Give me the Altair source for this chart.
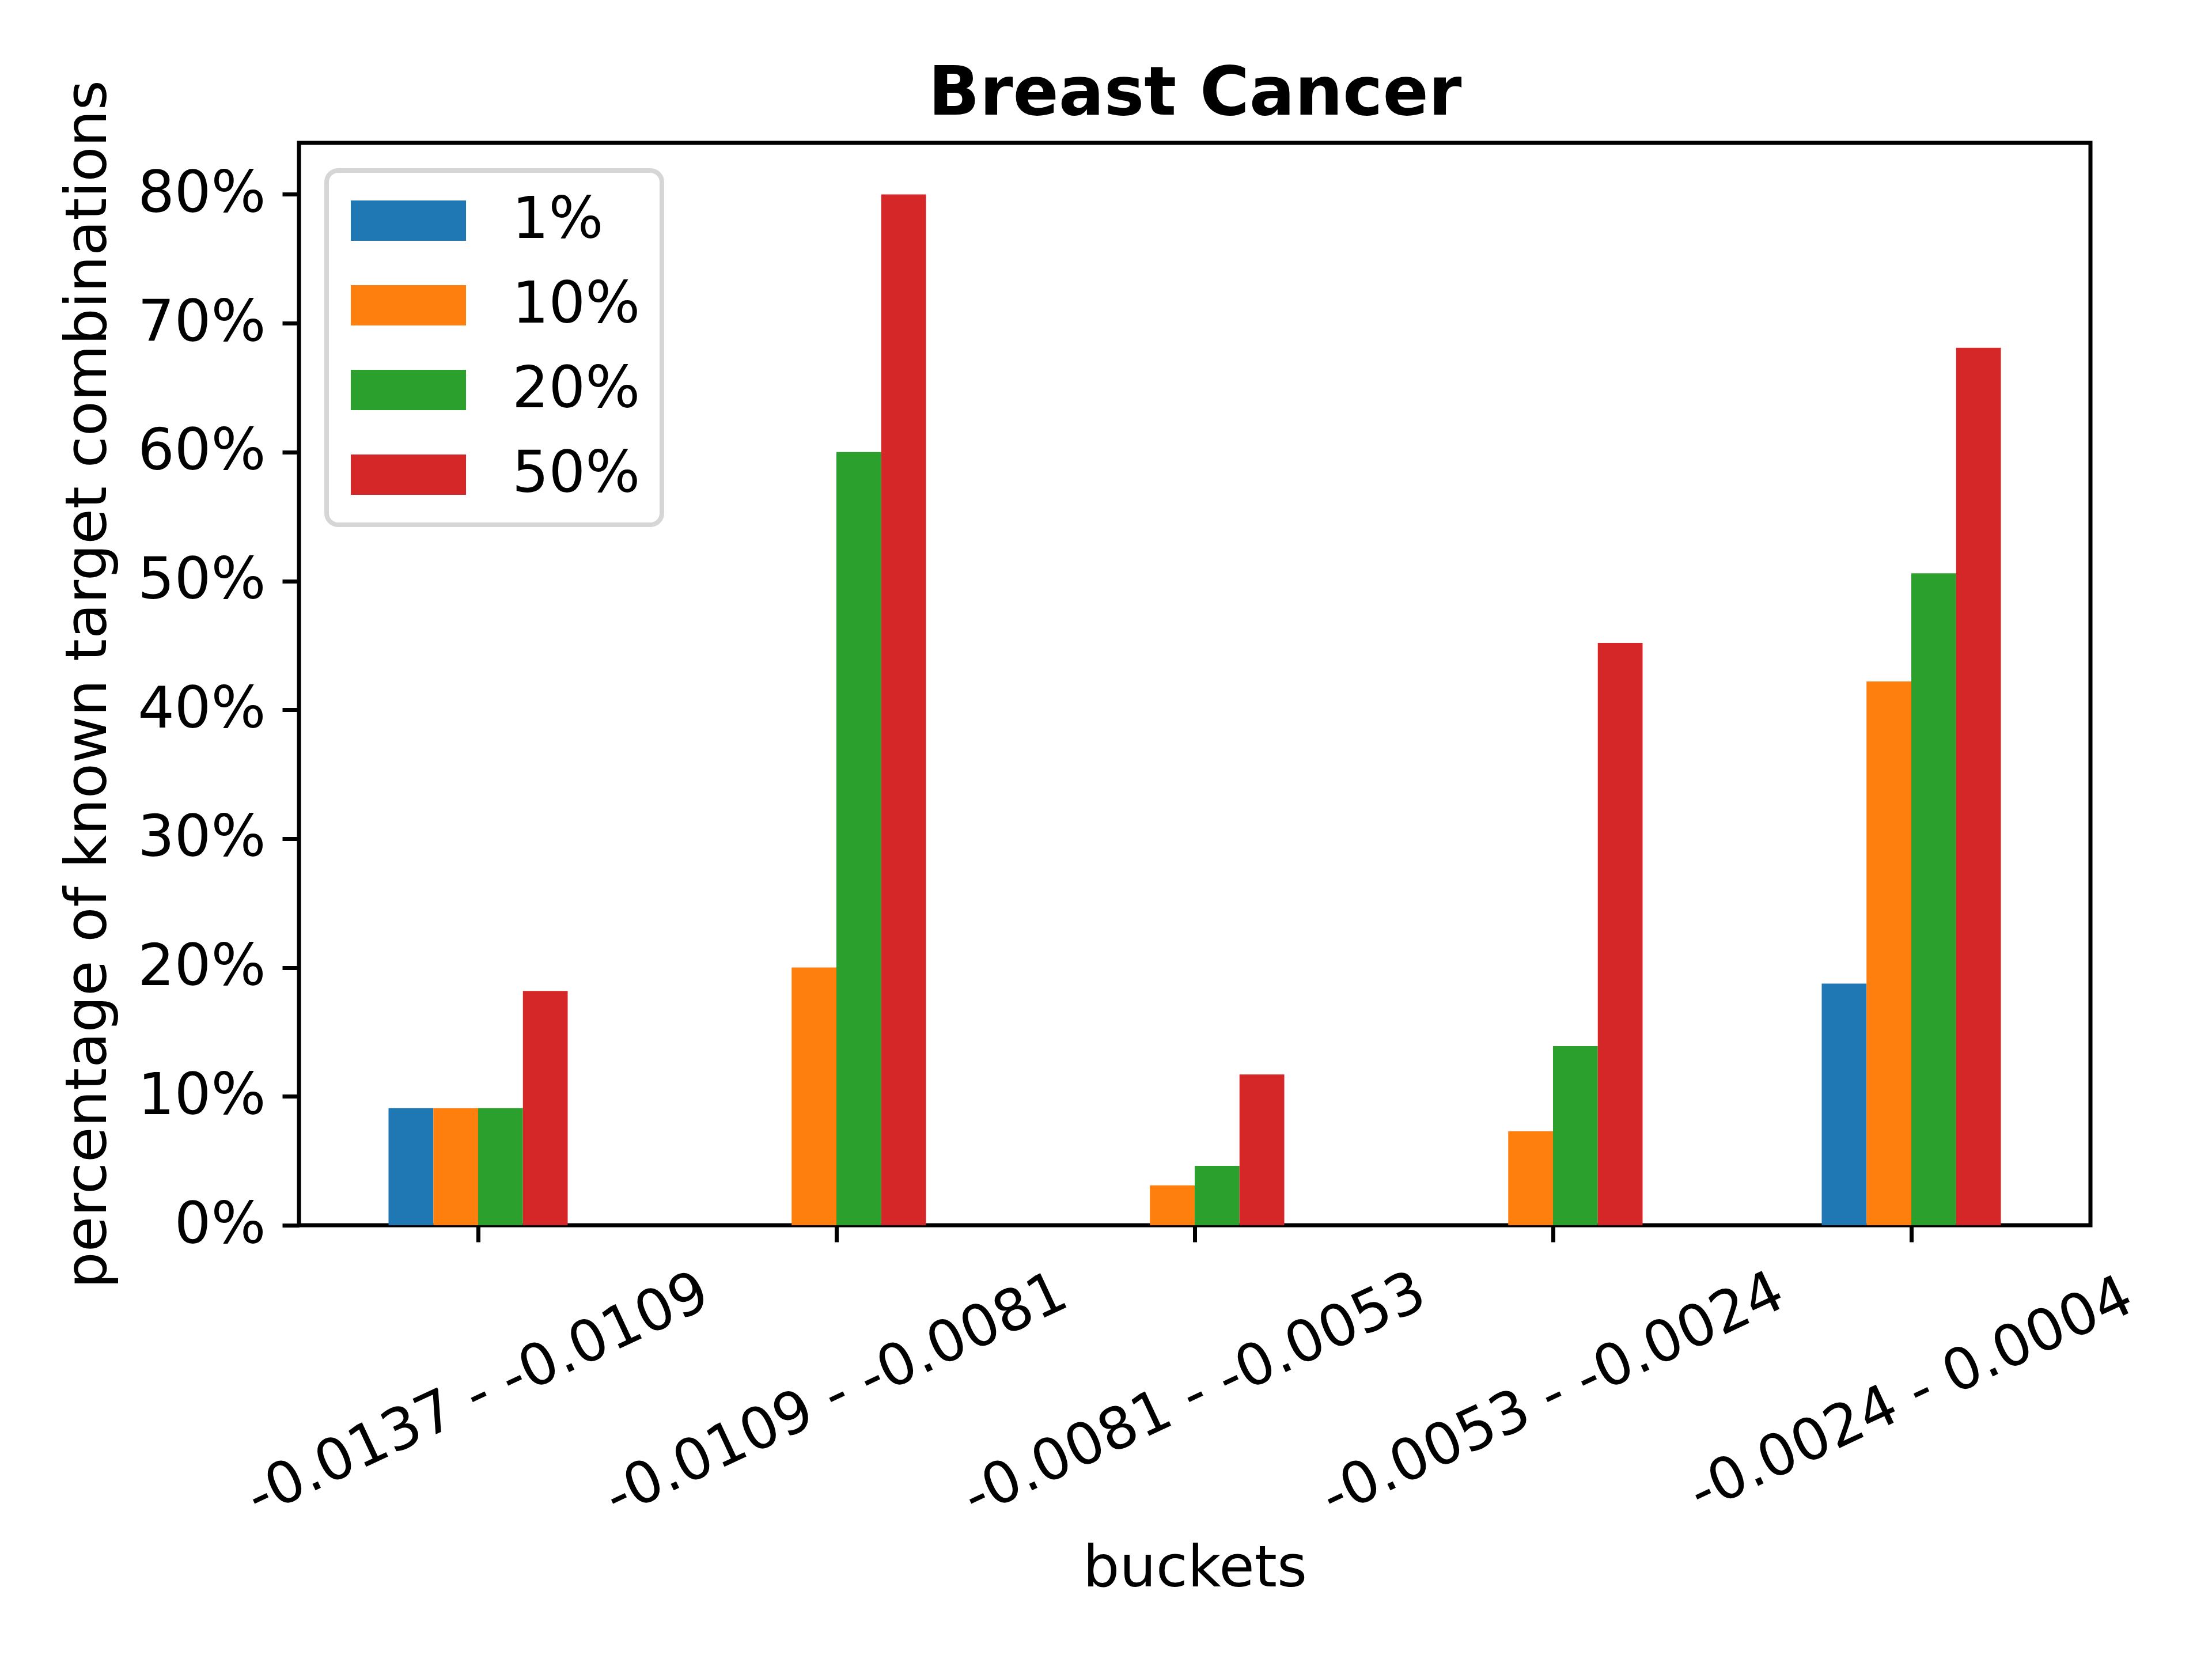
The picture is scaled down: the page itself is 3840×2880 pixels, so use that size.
import altair as alt
import pandas as pd

buckets = ["-0.0137 - -0.0109", "-0.0109 - -0.0081", "-0.0081 - -0.0053",
           "-0.0053 - -0.0024", "-0.0024 - 0.0004"]
series = ["1%", "10%", "20%", "50%"]
vals_1 = [9.09, 0.0, 0.0, 0.0, 18.75]
vals_10 = [9.09, 20.0, 3.1, 7.3, 42.2]
vals_20 = [9.09, 60.0, 4.6, 13.9, 50.6]
vals_50 = [18.18, 80.0, 11.7, 45.2, 68.1]
colors = ["#1f77b4", "#ff7f0e", "#2ca02c", "#d62728"]
y_ticks = [0, 10, 20, 30, 40, 50, 60, 70, 80]
chart_title = "Breast Cancer"

rows = []
for s, vals in zip(series, [vals_1, vals_10, vals_20, vals_50]):
    for b, v in zip(buckets, vals):
        rows.append({"bucket": b, "series": s, "value": v / 100.0})
df = pd.DataFrame(rows)

FONT = "DejaVu Sans"
W, H = 3110, 1879

x_scale = alt.Scale(paddingInner=0.5, paddingOuter=0.25)
y_scale = alt.Scale(domain=[0, 0.84], nice=False, zero=True)

bars = alt.Chart(df).mark_bar(strokeWidth=0).encode(
    x=alt.X("bucket:N", sort=buckets, title="buckets", scale=x_scale,
            axis=alt.Axis(labelAngle=-25, labelAlign="center", labelBaseline="middle",
                          labelPadding=266, labelOverlap=False, labelBound=False,
                          labelFlush=False, labelLimit=3000,
                          titleX=W / 2, titleY=626, titleAlign="center",
                          titleBaseline="alphabetic")),
    xOffset=alt.XOffset("series:N", sort=series,
                        scale=alt.Scale(paddingInner=0, paddingOuter=0)),
    y=alt.Y("value:Q", title="percentage of known target combinations", scale=y_scale,
            axis=alt.Axis(values=[t / 100 for t in y_ticks], format=".0%",
                          labelPadding=29, labelLimit=1000,
                          titleAngle=270, titleX=-336, titleY=H / 2,
                          titleAlign="center", titleBaseline="alphabetic")),
    color=alt.Color("series:N", sort=series,
                    scale=alt.Scale(domain=series, range=colors),
                    legend=alt.Legend(title=None, orient="none", legendX=48, legendY=48,
                                      symbolType="M-0.9,-0.7L3.1,-0.7L3.1,0.7L-0.9,0.7Z",
                                      symbolSize=10000, symbolStrokeWidth=0,
                                      symbolOpacity=1, labelFontSize=100,
                                      labelFont=FONT, labelColor="black",
                                      labelOffset=185, rowPadding=47, padding=37,
                                      strokeColor="#d6d6d6", fillColor="white",
                                      cornerRadius=20, labelLimit=2000)),
)

# top axis carrying the chart title at a fixed place above the plot
title_layer = alt.Chart(df).mark_bar(opacity=0).encode(
    x=alt.X("bucket:N", sort=buckets, scale=x_scale, title=chart_title,
            axis=alt.Axis(orient="top", labels=False, ticks=False, domain=False,
                          titleFontSize=117, titleFontWeight="bold",
                          titleX=W / 2, titleY=-50, titleAlign="center",
                          titleBaseline="alphabetic")),
    y=alt.Y("value:Q", scale=y_scale),
)

chart = alt.layer(bars, title_layer).resolve_axis(x="independent").properties(
    width=W, height=H,
    autosize=alt.AutoSizeParams(type="none"),
    padding={"left": 511, "top": 240, "right": 203, "bottom": 745},
).configure_view(
    stroke="black", strokeWidth=7
).configure_axis(
    domain=False, grid=False, ticks=True, tickColor="black", tickWidth=7, tickSize=29,
    labelFont=FONT, labelFontSize=100, labelColor="black",
    titleFont=FONT, titleFontSize=100, titleFontWeight="normal", titleColor="black"
).configure_legend(
    strokeWidth=8
)

chart.save("out.html", embed_options={"renderer": "svg", "actions": False})
